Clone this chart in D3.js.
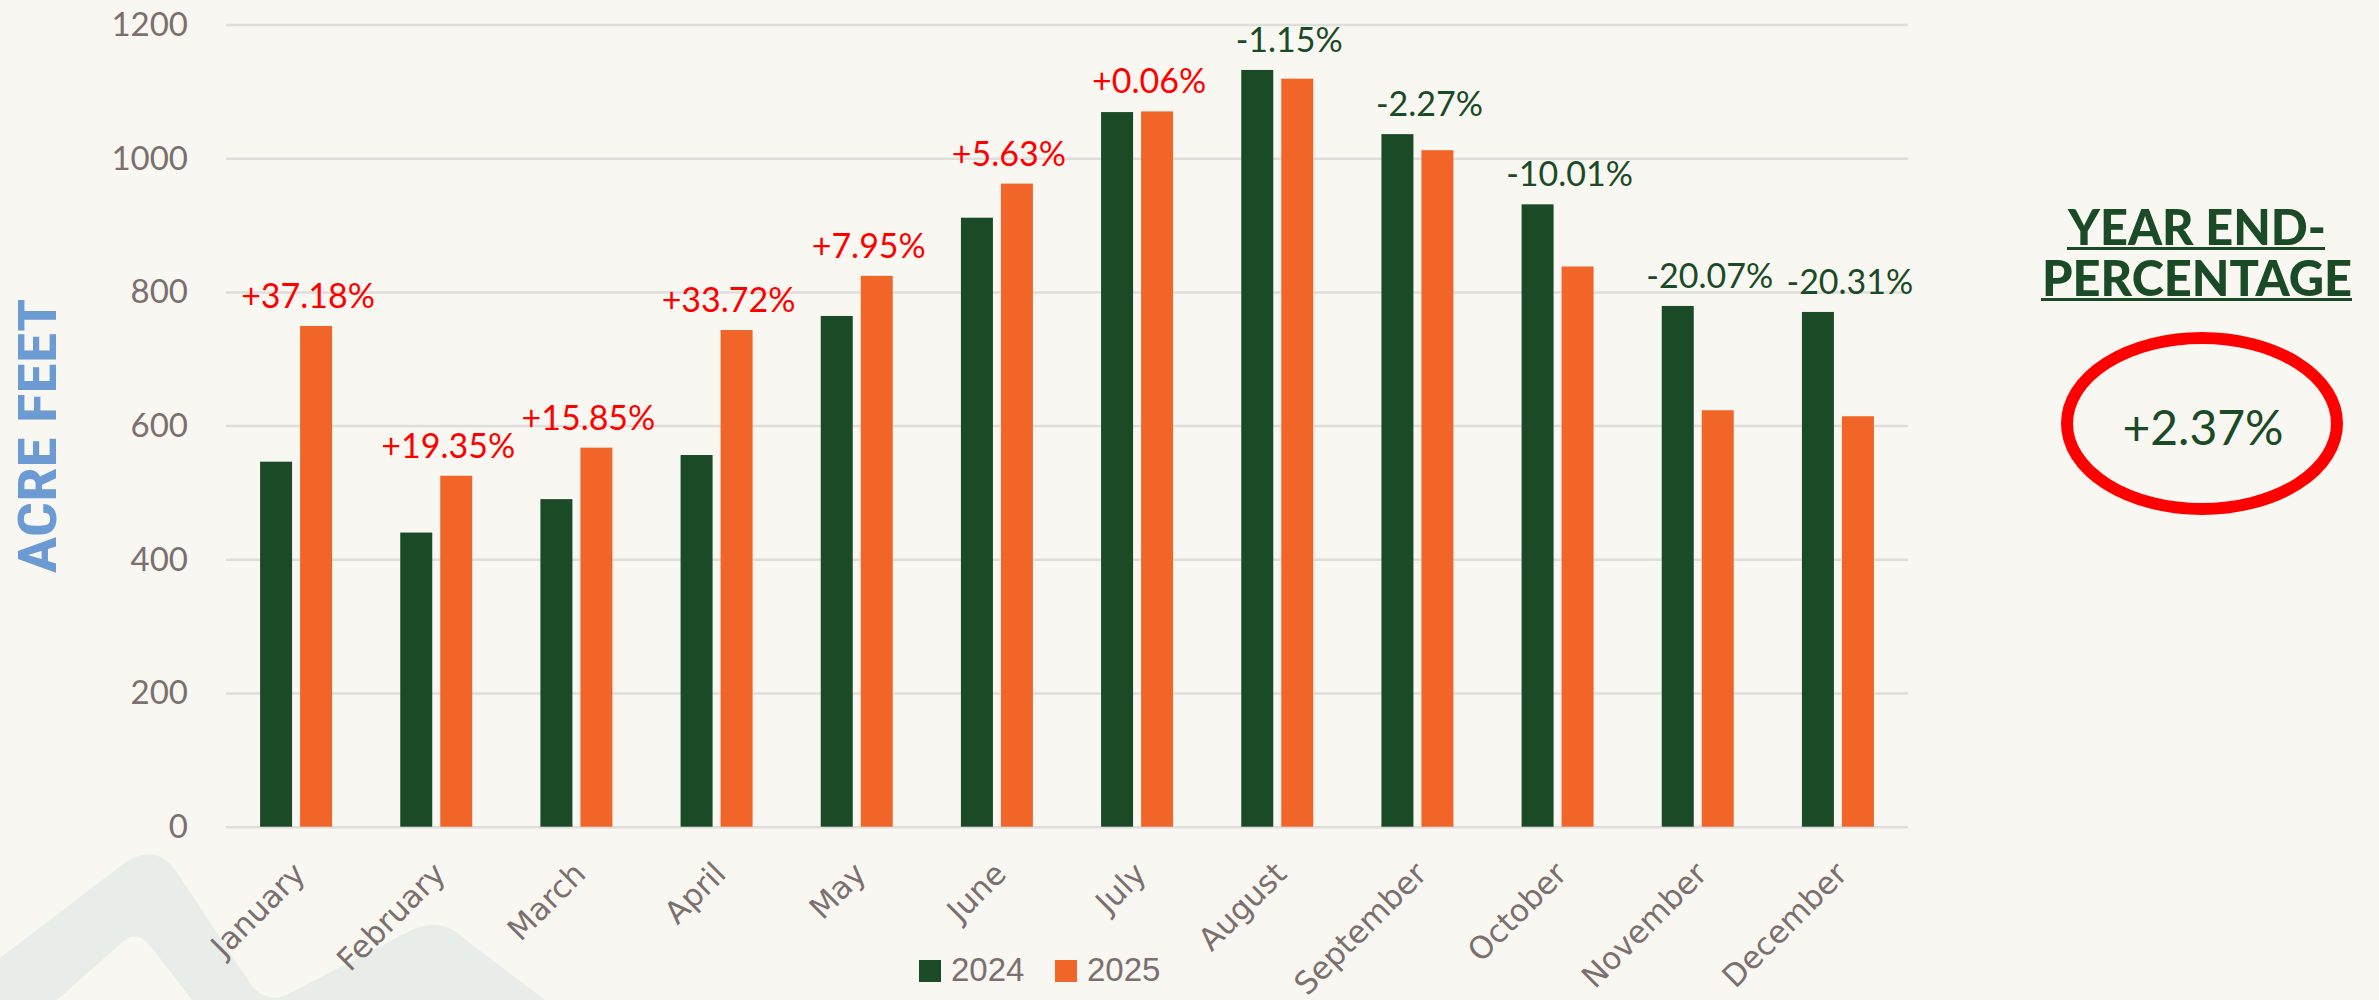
<!DOCTYPE html>
<html>
<head>
<meta charset="utf-8">
<script src="https://cdn.jsdelivr.net/npm/d3@7"></script>
<style>
  html, body { margin: 0; padding: 0; background: #f8f7f1; }
  svg { display: block; }
</style>
</head>
<body>
<svg id="chart" width="2379" height="1000"></svg>
<script>
const months = ["January","February","March","April","May","June","July","August","September","October","November","December"];
const seriesNames = ["2024","2025"];
const values2024 = [546, 440, 490, 556, 764, 911, 1069, 1132, 1036, 931, 779, 770];
const values2025 = [749, 525, 567, 743, 824, 962, 1070, 1119, 1012, 838, 623, 614];
const changeLabels = ["+37.18%","+19.35%","+15.85%","+33.72%","+7.95%","+5.63%","+0.06%","-1.15%","-2.27%","-10.01%","-20.07%","-20.31%"];
const yTickValues = [0, 200, 400, 600, 800, 1000, 1200];
const yAxisTitle = "ACRE FEET";
const sideTitle = ["YEAR END-", "PERCENTAGE"];
const yearEndLabel = "+2.37%";

const COLORS = { "2024": "#1b4a26", "2025": "#f26528" };
const BG = "#f8f7f1";
const TEXT_GRAY = "#7b6f6f";
const DARK_GREEN = "#1b4a26";

const svg = d3.select("#chart");

// background
svg.append("rect").attr("width", 2379).attr("height", 1000).attr("fill", BG);

// decorative mountains bottom-left
svg.append("path")
  .attr("d", "M0,958 L118,868 Q155,838 178,874 L252,986 Q268,1006 292,992 L408,932 Q440,914 466,940 L545,1000 L0,1000 Z")
  .attr("fill", "#e9edea");
svg.append("path")
  .attr("d", "M57,1000 L118,946 Q136,926 152,948 L192,1000 Z")
  .attr("fill", BG);

const plot = { left: 226, right: 1908, top: 24.5, bottom: 826.7 };

const x0 = d3.scaleBand().domain(months).range([plot.left, plot.right]).paddingInner(0).paddingOuter(0);
const y = d3.scaleLinear().domain([0, 1200]).range([plot.bottom, plot.top]);

// gridlines
const gridAxis = d3.axisLeft(y).tickValues(yTickValues).tickSize(-(plot.right - plot.left)).tickFormat("");
const gGrid = svg.append("g").attr("transform", `translate(${plot.left},0)`).call(gridAxis);
gGrid.select(".domain").remove();
gGrid.selectAll(".tick line").attr("stroke", "#e0dedc").attr("stroke-width", 2.5);

// y tick labels
const yAxis = d3.axisLeft(y).tickValues(yTickValues).tickSize(0).tickPadding(0).tickFormat(d3.format("d"));
const gY = svg.append("g").attr("transform", `translate(188,0)`).call(yAxis);
gY.select(".domain").remove();
gY.selectAll(".tick text")
  .attr("fill", TEXT_GRAY)
  .attr("font-family", "Lato, 'Open Sans', sans-serif")
  .attr("font-size", 33)
  .attr("dy", "0.33em");

// bars
const data = months.map((m, i) => ({ month: m, values: [
  { key: "2024", value: values2024[i] },
  { key: "2025", value: values2025[i] }
], label: changeLabels[i] }));

const groupW = 72;
const x1 = d3.scaleBand().domain(seriesNames).range([0, groupW]).paddingInner(0.2).paddingOuter(0);

const groups = svg.append("g").selectAll("g.grp").data(data).join("g")
  .attr("class", "grp")
  .attr("transform", d => `translate(${x0(d.month) + x0.bandwidth() / 2 - groupW / 2},0)`);

groups.selectAll("rect").data(d => d.values).join("rect")
  .attr("x", d => x1(d.key))
  .attr("width", x1.bandwidth())
  .attr("y", d => y(d.value))
  .attr("height", d => y(0) - y(d.value))
  .attr("fill", d => COLORS[d.key]);

// percentage labels
svg.append("g").selectAll("text").data(data).join("text")
  .attr("x", d => x0(d.month) + x0.bandwidth() / 2 + 12)
  .attr("y", d => y(d3.max(d.values, v => v.value)) - 18)
  .attr("text-anchor", "middle")
  .attr("font-family", "Lato, 'Open Sans', sans-serif")
  .attr("font-size", 34)
  .attr("fill", d => d.label.startsWith("+") ? "#ff0000" : DARK_GREEN)
  .text(d => d.label);

// x axis labels (rotated)
svg.append("g").selectAll("text").data(months).join("text")
  .attr("transform", d => `translate(${x0(d) + x0.bandwidth() / 2 + 11},${plot.bottom + 49}) rotate(-45)`)
  .attr("text-anchor", "end")
  .attr("font-family", "'DejaVu Sans', sans-serif")
  .attr("font-size", 31)
  .attr("fill", TEXT_GRAY)
  .text(d => d);

// y axis title
svg.append("text")
  .attr("transform", `translate(56,436) rotate(-90)`)
  .attr("text-anchor", "middle")
  .attr("font-family", "'Liberation Sans Narrow', 'Roboto Condensed', 'Liberation Sans', sans-serif")
  .attr("font-weight", "bold")
  .attr("font-size", 54)
  .attr("textLength", 275)
  .attr("lengthAdjust", "spacingAndGlyphs")
  .attr("fill", "#6b9bd2")
  .text(yAxisTitle);

// legend
const legend = svg.append("g");
const legendItems = [{ key: "2024", x: 919 }, { key: "2025", x: 1055 }];
legendItems.forEach(it => {
  legend.append("rect").attr("x", it.x).attr("y", 960).attr("width", 22).attr("height", 22).attr("fill", COLORS[it.key]);
  legend.append("text").attr("x", it.x + 32).attr("y", 981)
    .attr("font-family", "'Liberation Sans', Arial, sans-serif")
    .attr("font-size", 33)
    .attr("fill", TEXT_GRAY)
    .text(it.key);
});

// side panel
const side = svg.append("g");
const titleCx = 2197;
side.append("text").attr("x", titleCx).attr("y", 245)
  .attr("text-anchor", "middle")
  .attr("font-family", "Lato, 'Open Sans', sans-serif").attr("font-weight", 900)
  .attr("font-size", 50).attr("fill", DARK_GREEN)
  .attr("textLength", 258).attr("lengthAdjust", "spacingAndGlyphs")
  .text(sideTitle[0]);
side.append("line").attr("x1", 2067).attr("x2", 2325).attr("y1", 248.5).attr("y2", 248.5)
  .attr("stroke", DARK_GREEN).attr("stroke-width", 3);
side.append("text").attr("x", titleCx).attr("y", 296)
  .attr("text-anchor", "middle")
  .attr("font-family", "Lato, 'Open Sans', sans-serif").attr("font-weight", 900)
  .attr("font-size", 50).attr("fill", DARK_GREEN)
  .attr("textLength", 310).attr("lengthAdjust", "spacingAndGlyphs")
  .text(sideTitle[1]);
side.append("line").attr("x1", 2041).attr("x2", 2352).attr("y1", 299.5).attr("y2", 299.5)
  .attr("stroke", DARK_GREEN).attr("stroke-width", 3);

side.append("ellipse").attr("cx", 2202).attr("cy", 423.5).attr("rx", 135).attr("ry", 85.5)
  .attr("fill", "none").attr("stroke", "#ff0000").attr("stroke-width", 12);
side.append("text").attr("x", 2203).attr("y", 445)
  .attr("text-anchor", "middle")
  .attr("font-family", "Lato, 'Open Sans', sans-serif")
  .attr("font-size", 48).attr("fill", DARK_GREEN)
  .text(yearEndLabel);
</script>
</body>
</html>
